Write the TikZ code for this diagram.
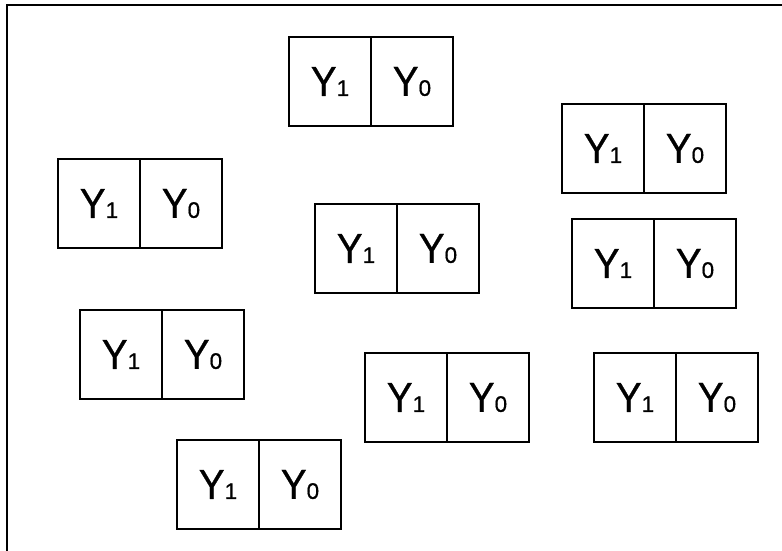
\documentclass[tikz,border=0pt]{standalone}
\usepackage{fontspec}
\setmainfont{Liberation Sans}
\newfontfamily\yfont[FakeBold=0.7,FakeStretch=0.92]{Liberation Sans}
\newfontfamily\labfont[FakeBold=0.6]{Liberation Sans}
\newcommand\Ylab[1]{{\yfont\fontsize{42}{42}\selectfont Y}{\labfont\fontsize{22.5}{22.5}\selectfont #1}}
\tikzset{
  cell/.style={draw, line width=1.3pt, minimum width=82pt, minimum height=89pt,
    inner sep=0pt, outer sep=0pt, anchor=north west},
  frameline/.style={line width=2.2pt}
}
\begin{document}
\begin{tikzpicture}[x=1pt,y=-1pt]
\useasboundingbox (0,0) rectangle (782,550);
% frame (only top and left edges visible)
\coordinate (fbl) at (7,551);
\coordinate (ftl) at (7,5);
\coordinate (ftr) at (783,5);
\draw[frameline] (fbl) -- (ftl) -- (ftr);
% pairs
\node[cell] (a1) at (289,37) {\Ylab{1}};
\node[cell] (a0) at (a1.north east) {\Ylab{0}};
\node[cell] (b1) at (562,104) {\Ylab{1}};
\node[cell] (b0) at (b1.north east) {\Ylab{0}};
\node[cell] (c1) at (58,159) {\Ylab{1}};
\node[cell] (c0) at (c1.north east) {\Ylab{0}};
\node[cell] (d1) at (315,204) {\Ylab{1}};
\node[cell] (d0) at (d1.north east) {\Ylab{0}};
\node[cell] (e1) at (572,219) {\Ylab{1}};
\node[cell] (e0) at (e1.north east) {\Ylab{0}};
\node[cell] (f1) at (80,310) {\Ylab{1}};
\node[cell] (f0) at (f1.north east) {\Ylab{0}};
\node[cell] (g1) at (365,353) {\Ylab{1}};
\node[cell] (g0) at (g1.north east) {\Ylab{0}};
\node[cell] (h1) at (594,353) {\Ylab{1}};
\node[cell] (h0) at (h1.north east) {\Ylab{0}};
\node[cell] (i1) at (177,440) {\Ylab{1}};
\node[cell] (i0) at (i1.north east) {\Ylab{0}};
\end{tikzpicture}
\end{document}
